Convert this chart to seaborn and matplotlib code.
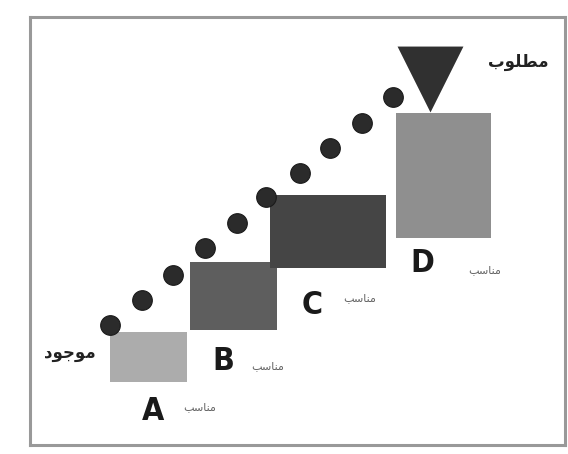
import matplotlib
matplotlib.use("Agg")
import matplotlib.pyplot as plt
import seaborn as sns
import pandas as pd

# --- Diagram data (pixel-like coordinates, y grows downward) ---
BOX_NAMES = ["A", "B", "C", "D"]
BOX_LEFT = [110, 190, 270, 396]
BOX_RIGHT = [187, 277, 386, 491]
BOX_TOP = [332, 262, 195, 113]
BOX_BOTTOM = [382, 330, 268, 238]
BOX_COLORS = ["#acacac", "#5e5e5e", "#454545", "#8f8f8f"]

DOT_X = [110, 142, 173, 205, 237, 266, 300, 330, 362, 393]
DOT_Y = [325, 300, 275, 248, 223, 197, 173, 148, 123, 97]

GOAL_X = [430]
GOAL_Y = [79]

LETTER_X = [153, 223, 312, 422]
LETTER_Y = [411, 361, 305, 263]

# "مناسب" written in shaped presentation forms, visual order
FIT_TEXT = "\uFE90\uFEB3\uFE8E\uFEE8\uFEE3"
FIT_X = [200, 268, 360, 485]
FIT_Y = [407, 366, 298, 270]

# "موجود" and "مطلوب"
START_TEXT = "\uFEA9\uFEEE\uFE9F\uFEEE\uFEE3"
GOAL_TEXT = "\uFE8F\uFEEE\uFEE0\uFEC4\uFEE3"


def main():
    sns.set_theme(style="white")
    plt.rcParams["font.family"] = ["DejaVu Sans"]

    fig = plt.figure(figsize=(5.68, 4.54), dpi=100)
    fig.patch.set_facecolor("white")
    # axes placed where the frame is, so spines act as the border
    ax = fig.add_axes([30 / 568, (454 - 445) / 454, (565 - 30) / 568, (445 - 17) / 454])
    ax.set_xlim(30, 565)
    ax.set_ylim(445, 17)
    ax.set_xticks([])
    ax.set_yticks([])
    for sp in ax.spines.values():
        sp.set_visible(True)
        sp.set_color("#999999")
        sp.set_linewidth(2.2)

    # the four steps
    widths = [r - l for l, r in zip(BOX_LEFT, BOX_RIGHT)]
    heights = [b - t for t, b in zip(BOX_TOP, BOX_BOTTOM)]
    ax.bar(BOX_LEFT, heights, width=widths, bottom=BOX_TOP, align="edge",
           color=BOX_COLORS, edgecolor="none", zorder=2)

    # dotted path up the stairs
    dots = pd.DataFrame({"x": DOT_X, "y": DOT_Y})
    sns.scatterplot(data=dots, x="x", y="y", s=200, color="#2b2b2b",
                    edgecolor="#1a1a1a", linewidth=0.8, ax=ax, zorder=3)

    # goal triangle
    goal = pd.DataFrame({"x": GOAL_X, "y": GOAL_Y})
    sns.scatterplot(data=goal, x="x", y="y", marker="v", s=2250,
                    color="#303030", linewidth=0, ax=ax, zorder=3)
    ax.set_xlabel("")
    ax.set_ylabel("")

    for name, x, y in zip(BOX_NAMES, LETTER_X, LETTER_Y):
        ax.text(x, y, name, fontsize=23, fontweight="bold", color="#1a1a1a",
                ha="center", va="center", fontstretch="condensed",
                family=["Liberation Sans Narrow", "DejaVu Sans"])

    for x, y in zip(FIT_X, FIT_Y):
        ax.text(x, y, FIT_TEXT, fontsize=8, color="#666666",
                ha="center", va="center", family=["DejaVu Sans"])

    ax.text(70, 353, START_TEXT, fontsize=12, fontweight="bold", color="#222222",
            ha="center", va="center", family=["DejaVu Sans"])
    ax.text(518, 62, GOAL_TEXT, fontsize=12, fontweight="bold", color="#222222",
            ha="center", va="center", family=["DejaVu Sans"])

    fig.savefig("out.png", dpi=100, facecolor="white")


if __name__ == "__main__":
    main()
